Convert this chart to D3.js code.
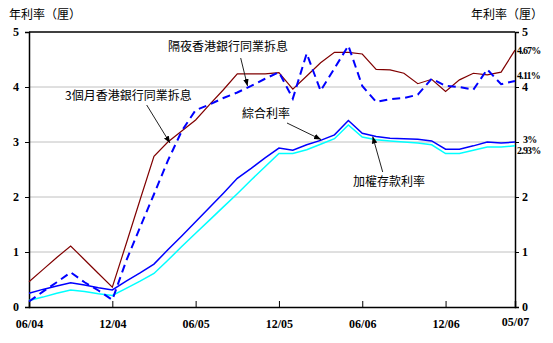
<!DOCTYPE html>
<html><head><meta charset="utf-8">
<script src="https://cdn.jsdelivr.net/npm/d3@7/dist/d3.min.js"></script>
<style>
body{margin:0;background:#fff;}
svg{display:block;}
.num{font-family:"Liberation Serif","Times New Roman",serif;font-weight:bold;font-size:12px;}
.ann{font-family:"Liberation Serif","Times New Roman",serif;font-weight:bold;font-size:10px;letter-spacing:-0.8px;}
.cjk{font-family:"Noto Sans CJK TC","Noto Sans CJK SC",sans-serif;font-size:12px;}
</style></head>
<body>
<svg id="chart" width="553" height="343"></svg>
<script>
const months = ["2004-06","2004-07","2004-08","2004-09","2004-10","2004-11","2004-12",
"2005-01","2005-02","2005-03","2005-04","2005-05","2005-06","2005-07","2005-08","2005-09","2005-10","2005-11","2005-12",
"2006-01","2006-02","2006-03","2006-04","2006-05","2006-06","2006-07","2006-08","2006-09","2006-10","2006-11","2006-12",
"2007-01","2007-02","2007-03","2007-04","2007-05"];
const hibor3m = [0.46,0.68,0.90,1.11,0.86,0.61,0.36,1.15,1.95,2.74,3.00,3.20,3.40,3.68,3.95,4.24,4.24,4.24,4.26,
3.96,4.20,4.44,4.63,4.63,4.60,4.32,4.31,4.25,4.06,4.14,3.92,4.13,4.25,4.22,4.27,4.67];
const hiborON = [0.10,0.28,0.45,0.63,0.45,0.30,0.13,0.84,1.45,2.05,2.66,3.20,3.58,3.68,3.80,3.90,4.02,4.15,4.27,
3.79,4.61,3.93,4.34,4.75,4.02,3.73,3.78,3.80,3.86,4.15,4.02,4.00,3.95,4.32,4.05,4.11];
const composite = [0.25,0.32,0.38,0.44,0.40,0.35,0.31,0.47,0.62,0.78,1.04,1.29,1.55,1.81,2.07,2.34,2.52,2.71,2.89,
2.85,2.95,3.03,3.13,3.39,3.16,3.10,3.07,3.06,3.05,3.02,2.87,2.87,2.93,3.00,2.98,3.00];
const deposit = [0.12,0.18,0.25,0.31,0.28,0.24,0.21,0.34,0.47,0.61,0.85,1.10,1.34,1.58,1.82,2.06,2.31,2.55,2.79,
2.79,2.86,2.96,3.06,3.31,3.09,3.04,3.02,3.00,2.98,2.95,2.79,2.79,2.85,2.91,2.91,2.93];
const tickIdx = [0,6,12,18,24,30,35];
const tickLabels = ["06/04","12/04","06/05","12/05","06/06","12/06","05/07"];
const yTicks = [0,1,2,3,4,5];
const endLabelText = ["4.67%","4.11%","3%","2.93%"];
const endLabelValue = [4.67,4.11,3.0,2.93];

const svg = d3.select("#chart");
const L=29,R=515,T=32,B=307;
const x = d3.scaleLinear().domain([0,months.length-1]).range([L,R]);
const y = d3.scaleLinear().domain([0,5]).range([B,T]);

// grid
svg.append("g").selectAll("line").data([1,2,3,4]).join("line")
 .attr("x1",L).attr("x2",R).attr("y1",d=>y(d)).attr("y2",d=>y(d))
 .attr("stroke","#c0c0c0").attr("stroke-width",1);

// axes
const gl = svg.append("g").attr("transform",`translate(${L},0)`)
 .call(d3.axisLeft(y).tickValues(yTicks).tickSize(4).tickFormat(d3.format("d")));
const gr = svg.append("g").attr("transform",`translate(${R},0)`)
 .call(d3.axisRight(y).tickValues(yTicks).tickSize(4).tickFormat(d=> d===3 ? "" : d3.format("d")(d)));
const gb = svg.append("g").attr("transform",`translate(0,${B})`)
 .call(d3.axisBottom(x).tickValues(tickIdx).tickSize(-6).tickPadding(12).tickFormat((d,i)=>tickLabels[i]));
svg.append("line").attr("x1",L).attr("x2",R).attr("y1",T).attr("y2",T).attr("stroke","#000").attr("stroke-width",1.5);
[gl,gr,gb].forEach(g=>{
 g.select(".domain").attr("stroke","#000").attr("stroke-width",1.5);
 g.selectAll(".tick line").attr("stroke","#000");
 g.selectAll("text").attr("class","num").attr("fill","#000").attr("font-size",null).attr("font-family",null);
});
gl.selectAll("text").attr("x",-10);
gr.selectAll("text").attr("x",7);
gb.selectAll("text").filter((d,i)=>i===tickIdx.length-1).attr("dy","0.55em");

// lines
const line = arr => d3.line().x((d,i)=>x(i)).y(d=>y(d))(arr);
svg.append("path").attr("d",line(deposit)).attr("fill","none").attr("stroke","#00ffff").attr("stroke-width",1.5);
svg.append("path").attr("d",line(composite)).attr("fill","none").attr("stroke","#0000ff").attr("stroke-width",1.5);
svg.append("path").attr("d",line(hibor3m)).attr("fill","none").attr("stroke","#800000").attr("stroke-width",1.2);
svg.append("path").attr("d",line(hiborON)).attr("fill","none").attr("stroke","#0000ff").attr("stroke-width",2).attr("stroke-dasharray","8,5");

// end labels (pixel nudges so they don't collide)
const nudge = [0,-5,-3,5];
svg.append("g").selectAll("text").data(endLabelText).join("text").attr("class","ann")
 .attr("x",(d,i)=> i===2 ? R+8 : R+2)
 .attr("y",(d,i)=>y(endLabelValue[i])+nudge[i]).attr("dy","0.35em").text(d=>d);

// titles
svg.append("text").attr("class","cjk").attr("x",9).attr("y",19).text("年利率（厘）");
svg.append("text").attr("class","cjk").attr("x",471).attr("y",19).text("年利率（厘）");

// annotations
svg.append("defs").append("marker").attr("id","ah").attr("viewBox","0 0 10 10").attr("refX",10).attr("refY",5)
 .attr("markerWidth",7).attr("markerHeight",7).attr("orient","auto")
 .append("path").attr("d","M0,1L10,5L0,9Z").attr("fill","#000");
const notes = [
 {t:"隔夜香港銀行同業拆息",tx:168,ty:51,x1:240.7,y1:58,x2:247.5,y2:86},
 {t:"3個月香港銀行同業拆息",tx:65,ty:100,x1:146.7,y1:105,x2:170,y2:143},
 {t:"綜合利率",tx:242,ty:118,x1:287,y1:123,x2:321,y2:139.5},
 {t:"加權存款利率",tx:353,ty:186,x1:382.7,y1:172,x2:372.7,y2:136.5}
];
svg.append("g").selectAll("text").data(notes).join("text").attr("class","cjk")
 .attr("x",d=>d.tx).attr("y",d=>d.ty).text(d=>d.t);
svg.append("g").selectAll("line").data(notes).join("line")
 .attr("x1",d=>d.x1).attr("y1",d=>d.y1).attr("x2",d=>d.x2).attr("y2",d=>d.y2)
 .attr("stroke","#222").attr("stroke-width",1).attr("marker-end","url(#ah)");
</script>
</body></html>
